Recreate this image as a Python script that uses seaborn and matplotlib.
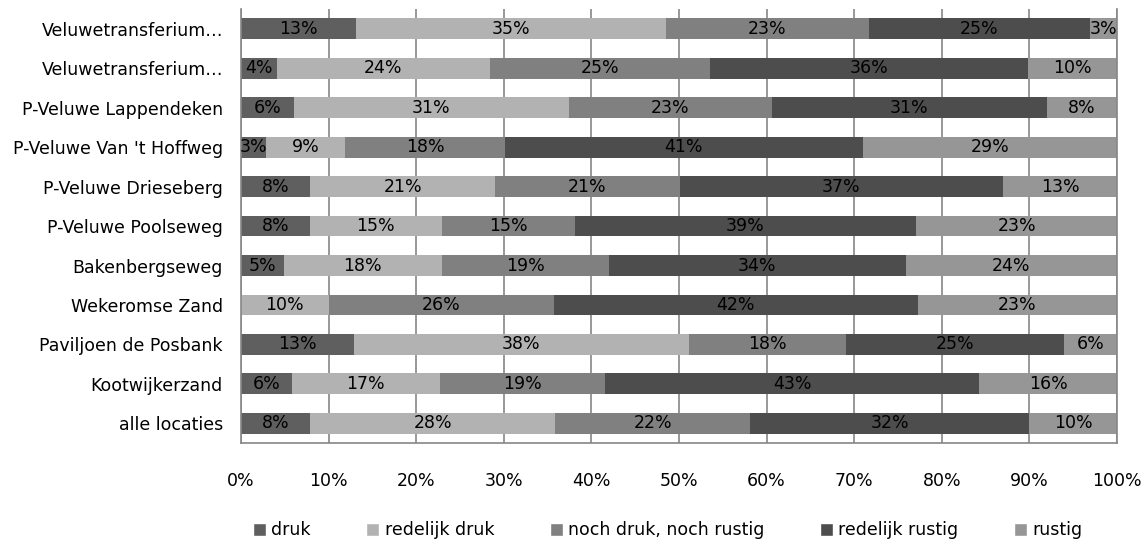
import numpy as np
import matplotlib.pyplot as plt
import seaborn as sns
from matplotlib.patches import Patch

# Data
locaties = [
    "Veluwetransferium…",
    "Veluwetransferium…",
    "P-Veluwe Lappendeken",
    "P-Veluwe Van 't Hoffweg",
    "P-Veluwe Drieseberg",
    "P-Veluwe Poolseweg",
    "Bakenbergseweg",
    "Wekeromse Zand",
    "Paviljoen de Posbank",
    "Kootwijkerzand",
    "alle locaties",
]
categorieen = ["druk", "redelijk druk", "noch druk, noch rustig", "redelijk rustig", "rustig"]

druk = [13.1, 4.1, 6.0, 2.9, 7.9, 7.9, 4.9, 0.0, 12.9, 5.8, 7.9]
redelijk_druk = [35.4, 24.3, 31.4, 9.0, 21.1, 15.0, 18.0, 10.0, 38.2, 16.9, 28.0]
noch = [23.2, 25.1, 23.2, 18.2, 21.1, 15.2, 19.1, 25.7, 18.0, 18.9, 22.2]
redelijk_rustig = [25.2, 36.4, 31.4, 40.9, 36.9, 39.0, 33.9, 41.6, 24.9, 42.6, 31.9]
rustig = [3.1, 10.1, 8.0, 29.0, 13.0, 22.9, 24.1, 22.7, 6.0, 15.9, 10.0]

kleuren = ["#5f5f5f", "#b2b2b2", "#808080", "#4d4d4d", "#969696"]

waarden = np.array([druk, redelijk_druk, noch, redelijk_rustig, rustig]).T
cum = np.cumsum(waarden, axis=1)
rij = [str(i) for i in range(len(locaties))]  # unieke sleutels (twee gelijke namen)

sns.set_style("white")
plt.rcParams["font.family"] = ["DejaVu Sans"]
plt.rcParams["text.color"] = "black"
FS = 12.5

fig, ax = plt.subplots(figsize=(11.45, 5.45), dpi=100)
fig.subplots_adjust(left=0.2105, right=0.9755, top=0.9835, bottom=0.187)

# gestapelde balken: cumulatieve totalen, grootste eerst
for i in reversed(range(len(categorieen))):
    sns.barplot(x=cum[:, i], y=rij, order=rij, color=kleuren[i], orient="h",
                width=0.53, ax=ax, saturation=1, linewidth=0, errorbar=None)

# labels in het midden van elk segment
for r in range(len(locaties)):
    start = 0
    for c in range(len(categorieen)):
        v = waarden[r, c]
        if v > 0:
            ax.text(start + v / 2, r, f"{v:.0f}%", ha="center", va="center",
                    fontsize=FS, color="black")
        start += v

ax.set_xlim(0, 100)
ax.set_ylim(10.5, -0.5)
ax.set_xticks(np.arange(0, 101, 10))
ax.set_xticklabels([f"{t}%" for t in range(0, 101, 10)], fontsize=FS)
ax.set_yticks(range(len(locaties)))
ax.set_yticklabels(locaties, fontsize=FS)
ax.set_yticks(np.arange(-0.5, 11, 1), minor=True)
ax.tick_params(axis="y", which="major", length=0, pad=13, labelcolor="black")
ax.tick_params(axis="y", which="minor", length=5, color="#868686", width=1.2)
ax.tick_params(axis="x", length=5, color="#868686", width=1.2, pad=16, labelcolor="black")
ax.set_xlabel("")
ax.set_ylabel("")

ax.grid(axis="x", color="#868686", linewidth=1.2)
ax.set_axisbelow(True)
ax.spines["top"].set_visible(False)
for s in ["left", "bottom", "right"]:
    ax.spines[s].set_color("#868686")
    ax.spines[s].set_linewidth(1.2)

handles = [Patch(facecolor=k, label=c) for k, c in zip(kleuren, categorieen)]
fig.legend(handles=handles, loc="center", bbox_to_anchor=(0.583, 0.027), ncol=5,
           frameon=False, fontsize=FS, handlelength=0.75, handleheight=0.75,
           handletextpad=0.3, columnspacing=3.2)

plt.savefig("out.png", dpi=100)
